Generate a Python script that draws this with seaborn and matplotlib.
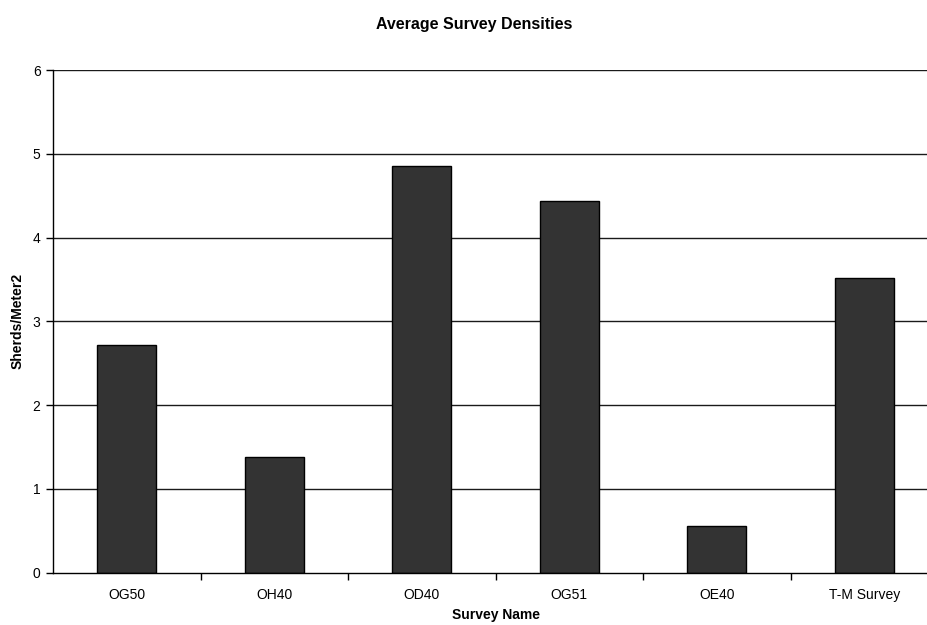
import matplotlib
matplotlib.use("Agg")
import matplotlib.pyplot as plt
import seaborn as sns
import pandas as pd
import numpy as np

# Survey names and average sherd densities (sherds per square metre)
surveys = ["OG50", "OH40", "OD40", "OG51", "OE40", "T-M Survey"]
densities = [2.72, 1.38, 4.85, 4.44, 0.56, 3.52]
y_ticks = [0, 1, 2, 3, 4, 5, 6]

df = pd.DataFrame({"Survey Name": surveys, "Sherds/Meter2": densities})

sns.set_theme(style="white")
plt.rcParams["font.family"] = ["Liberation Sans", "DejaVu Sans"]
plt.rcParams["text.color"] = "black"
plt.rcParams["axes.labelcolor"] = "black"
plt.rcParams["xtick.color"] = "black"
plt.rcParams["ytick.color"] = "black"

W, H = 927, 625
fig = plt.figure(figsize=(W / 100, H / 100), dpi=100)
left, right, top, bottom = 53, 938, 70, 572.7
ax_w, ax_h = right - left, bottom - top
ax = fig.add_axes([left / W, 1 - bottom / H, ax_w / W, ax_h / H])

sns.barplot(data=df, x="Survey Name", y="Sherds/Meter2", ax=ax,
            color="#333333", saturation=1, width=0.4,
            edgecolor="black", linewidth=1, zorder=3)

ax.set_ylim(0, 6)
ax.set_xlim(-0.5, len(surveys) - 0.5)
ax.set_yticks(y_ticks)
ax.set_yticklabels([str(t) for t in y_ticks], fontsize=10)

# Horizontal gridlines at every unit
for t in y_ticks[1:]:
    ax.axhline(t, color="#1a1a1a", linewidth=1, zorder=1)

# Category ticks sit between bars
ax.set_xticks(np.arange(len(surveys)))
ax.set_xticklabels(surveys, fontsize=10)
ax.set_xticks(np.arange(len(surveys)) + 0.5, minor=True)
ax.tick_params(axis="x", which="major", length=0, pad=11, colors="black")
ax.tick_params(axis="x", which="minor", length=5, width=1, color="black",
               direction="out", bottom=True)
ax.tick_params(axis="y", which="major", length=5, width=1, color="black",
               direction="out", left=True, pad=4, labelcolor="black")

for side in ("top", "right"):
    ax.spines[side].set_visible(False)
for side in ("left", "bottom"):
    ax.spines[side].set_color("black")
    ax.spines[side].set_linewidth(1)
    ax.spines[side].set_zorder(4)

ax.set_xlabel("Survey Name", fontsize=10, fontweight="bold", color="black")
ax.xaxis.set_label_coords((495.5 - left) / ax_w, (bottom - 615) / ax_h)
ax.xaxis.label.set_va("center")
ax.set_ylabel("Sherds/Meter2", fontsize=10, fontweight="bold", color="black")
ax.yaxis.set_label_coords((18 - left) / ax_w, 0.5)
ax.yaxis.label.set_va("center")

fig.text(474.5 / W, 1 - 24 / H, "Average Survey Densities", color="black",
         ha="center", va="center", fontsize=11.5, fontweight="bold")

fig.savefig("out.png", dpi=100, facecolor="white")
